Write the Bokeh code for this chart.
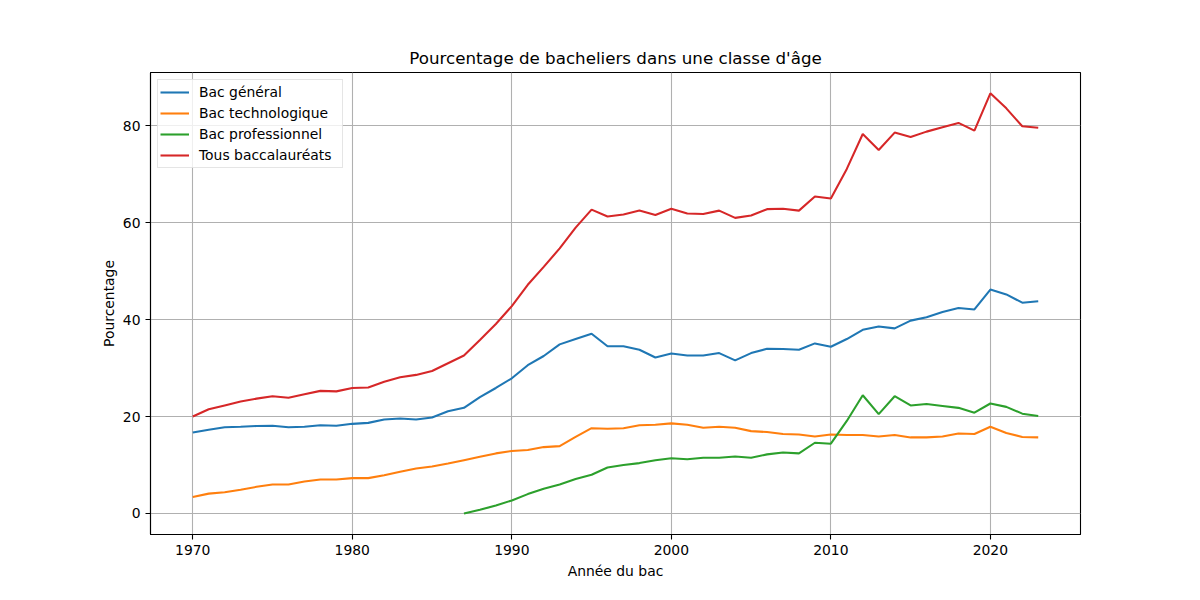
from bokeh.plotting import figure
from bokeh.models import Range1d, FixedTicker, Legend, LegendItem
from bokeh.embed import file_html
from bokeh.resources import INLINE

years = list(range(1970, 2024))
bac_general = [16.7, 17.3, 17.8, 17.9, 18.05, 18.1, 17.8, 17.9, 18.2, 18.1,
               18.5, 18.7, 19.4, 19.6, 19.4, 19.8, 21.1, 21.8, 24.0, 25.9,
               27.9, 30.6, 32.5, 34.9, 36.0, 37.1, 34.5, 34.5, 33.8, 32.2,
               33.0, 32.6, 32.6, 33.1, 31.6, 33.1, 34.0, 33.95, 33.8, 35.1,
               34.4, 36.0, 37.9, 38.6, 38.2, 39.8, 40.5, 41.6, 42.4, 42.1,
               46.2, 45.2, 43.5, 43.8]
bac_techno = [3.4, 4.1, 4.4, 4.9, 5.5, 6.0, 6.0, 6.6, 7.0, 7.0,
              7.3, 7.3, 7.9, 8.6, 9.3, 9.7, 10.3, 11.0, 11.7, 12.4,
              12.9, 13.1, 13.7, 13.9, 15.8, 17.6, 17.5, 17.6, 18.2, 18.3,
              18.6, 18.3, 17.7, 17.9, 17.7, 17.0, 16.8, 16.4, 16.3, 15.9,
              16.3, 16.2, 16.2, 15.9, 16.2, 15.7, 15.7, 15.9, 16.5, 16.4,
              17.9, 16.6, 15.8, 15.7]
pro_years = list(range(1987, 2024))
bac_pro = [0.0, 0.75, 1.65, 2.7, 4.0, 5.1, 6.0, 7.1, 8.0, 9.5,
           10.0, 10.4, 11.0, 11.4, 11.2, 11.5, 11.5, 11.75, 11.5, 12.2,
           12.6, 12.4, 14.6, 14.4, 19.1, 24.4, 20.5, 24.2, 22.3, 22.6,
           22.2, 21.8, 20.8, 22.7, 22.0, 20.6, 20.1]
tous = [20.0, 21.5, 22.3, 23.1, 23.7, 24.2, 23.9, 24.6, 25.3, 25.2,
        25.9, 26.0, 27.2, 28.1, 28.6, 29.4, 31.0, 32.6, 35.8, 39.1,
        42.8, 47.2, 50.9, 54.7, 59.0, 62.7, 61.3, 61.7, 62.5, 61.6,
        62.9, 61.9, 61.8, 62.5, 61.0, 61.5, 62.8, 62.9, 62.5, 65.4,
        65.0, 71.1, 78.3, 75.0, 78.6, 77.7, 78.8, 79.7, 80.6, 79.0,
        86.7, 83.6, 79.9, 79.6]
x_ticks = [1970, 1980, 1990, 2000, 2010, 2020]
y_ticks = [0, 20, 40, 60, 80]
labels = ["Bac général", "Bac technologique", "Bac professionnel", "Tous baccalauréats"]
colors = ["#1f77b4", "#ff7f0e", "#2ca02c", "#d62728"]

FONT = "DejaVu Sans"

p = figure(width=1184, height=584, output_backend="svg", toolbar_location=None,
           x_range=Range1d(1967.35, 2025.65), y_range=Range1d(-4.335, 91.0),
           min_border_left=150, min_border_right=104, min_border_top=72,
           min_border_bottom=50)

p.title.text = "Pourcentage de bacheliers dans une classe d'âge"
p.title.align = "center"
p.title.text_font = FONT
p.title.text_font_size = "16.7px"
p.title.text_font_style = "normal"
p.title.text_color = "black"

p.outline_line_color = "black"
p.outline_line_width = 1.1
p.background_fill_color = "white"
p.border_fill_color = "white"

for ax in (p.xaxis[0], p.yaxis[0]):
    ax.axis_line_color = "black"
    ax.axis_line_width = 1.1
    ax.major_tick_in = 0
    ax.major_tick_out = 5
    ax.major_tick_line_color = "black"
    ax.major_tick_line_width = 1.1
    ax.minor_tick_line_color = None
    ax.major_label_text_font = FONT
    ax.major_label_text_font_size = "13.9px"
    ax.major_label_text_color = "black"
    ax.axis_label_text_font = FONT
    ax.axis_label_text_font_size = "13.9px"
    ax.axis_label_text_font_style = "normal"
    ax.axis_label_text_color = "black"
    ax.major_label_standoff = 5

p.xaxis.ticker = FixedTicker(ticks=x_ticks)
p.yaxis.ticker = FixedTicker(ticks=y_ticks)
p.xaxis.axis_label = "Année du bac"
p.yaxis.axis_label = "Pourcentage"
p.xaxis.axis_label_standoff = 5
p.yaxis.axis_label_standoff = 3

p.xgrid.ticker = FixedTicker(ticks=x_ticks)
p.ygrid.ticker = FixedTicker(ticks=y_ticks)
for g in (p.xgrid[0], p.ygrid[0]):
    g.grid_line_color = "#b0b0b0"
    g.grid_line_width = 1.1

r1 = p.line(years, bac_general, line_color=colors[0], line_width=2.08)
r2 = p.line(years, bac_techno, line_color=colors[1], line_width=2.08)
r3 = p.line(pro_years, bac_pro, line_color=colors[2], line_width=2.08)
r4 = p.line(years, tous, line_color=colors[3], line_width=2.08)

legend = Legend(items=[LegendItem(label=l, renderers=[r]) for l, r in zip(labels, [r1, r2, r3, r4])],
                location="top_left")
legend.margin = 7
legend.padding = 2
legend.spacing = 1
legend.glyph_width = 29
legend.glyph_height = 20
legend.label_height = 20
legend.label_width = 141
legend.label_standoff = 10
legend.label_text_font = FONT
legend.label_text_font_size = "13.9px"
legend.label_text_color = "black"
legend.border_line_color = "#cccccc"
legend.border_line_width = 1.1
legend.background_fill_alpha = 0.8
p.add_layout(legend)

open("out.html", "w").write(file_html(p, INLINE))
